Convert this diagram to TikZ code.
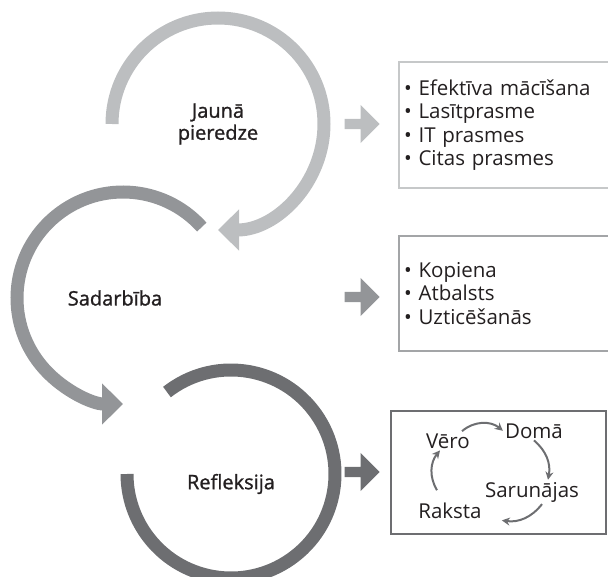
\documentclass[tikz,border=0pt]{standalone}
\usepackage{fontspec}
\setmainfont{Open Sans}
\newfontfamily\headfont[FakeBold=1.2]{Open Sans}
\usepackage{tikz}
\usetikzlibrary{arrows.meta,shapes.arrows,positioning}
\definecolor{lightgrey}{HTML}{BCBEC0}
\definecolor{midgrey}{HTML}{939598}
\definecolor{darkgrey}{HTML}{6D6E71}
\definecolor{textgrey}{HTML}{231F20}
\tikzstyle{phase}=[text=textgrey,align=center,font=\headfont\fontsize{20}{22}\selectfont]
\tikzstyle{ring}=[line width=13pt]
\tikzstyle{ringarrow}=[ring,-{Triangle[width=40pt,length=21pt]}]
\tikzstyle{listbox}=[draw,line width=2pt,anchor=north west,align=left,text=textgrey,
  text width=212pt,inner xsep=5pt,font=\fontsize{20.5}{23.5}\selectfont]
\tikzstyle{blockarrow}=[single arrow,anchor=tip,minimum height=35pt,text height=0pt,text depth=0pt,
  inner xsep=0pt,inner ysep=5pt,single arrow head extend=14pt]
\tikzstyle{word}=[anchor=base,inner sep=2pt,text=textgrey,font=\fontsize{20.5}{22}\selectfont]
\tikzstyle{cycle}=[darkgrey,line width=2pt,-{Stealth[length=8pt,width=8pt]}]

\begin{document}
\begin{tikzpicture}[x=1pt,y=1pt]
\useasboundingbox (0,0) rectangle (608,-577);
% three phases
\node [phase] (jauna) at (218,-124) {Jaunā\\pieredze};
\node [phase] (sadarbiba) at (115,-298) {Sadarbība};
\node [phase] (refleksija) at (231,-484) {Refleksija};
\draw [ring,darkgrey] (231,-474) ++(128:104) arc[start angle=128,end angle=-180,radius=104];
\draw [ringarrow,midgrey] (123,-298) ++(42:106) arc[start angle=42,end angle=270,radius=106];
\draw [ringarrow,lightgrey] (218,-124) ++(180:106) arc[start angle=180,end angle=-90,radius=106];
% arrows to the boxes
\node [blockarrow,fill=lightgrey] (a1) at (380,-124) {};
\node [blockarrow,fill=midgrey] (a2) at (380,-297) {};
\node [blockarrow,fill=darkgrey] (a3) at (380,-472) {};
% boxes
\node [listbox,draw=lightgrey!85,minimum height=126pt] (prasmes) at (398,-61)
  {\textbullet\ Efektīva mācīšana\\\textbullet\ Lasītprasme\\\textbullet\ IT prasmes\\\textbullet\ Citas prasmes};
\node [listbox,draw=midgrey!85,minimum height=115pt] (kopiena) at (398,-235)
  {\textbullet\ Kopiena\\\textbullet\ Atbalsts\\\textbullet\ Uzticēšanās};
\node [draw=darkgrey,line width=2pt,minimum width=215pt,minimum height=123pt,anchor=north west] (cikls) at (390,-410) {};
% cycle inside the last box
\node [word] (vero) at (448,-448) {Vēro};
\node [word] (doma) at (534,-438) {Domā};
\node [word] (sarunajas) at (532,-497) {Sarunājas};
\node [word] (raksta) at (450,-518) {Raksta};
\draw [cycle] ([xshift=-10pt]vero.north east) to[bend left=40] (doma.west);
\draw [cycle] (doma.south) to[bend left=30] ([xshift=16pt]sarunajas.north);
\draw [cycle] ([xshift=10pt]sarunajas.south) to[bend left=30] ([xshift=18pt]raksta.south east);
\draw [cycle] ([xshift=-13pt,yshift=10pt]raksta.north) to[bend left=35] ([xshift=-8pt]vero.south);
\end{tikzpicture}
\end{document}
